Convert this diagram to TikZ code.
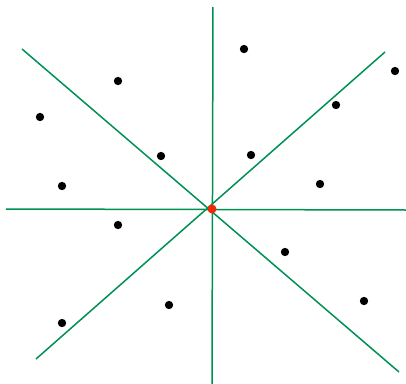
\documentclass[tikz,border=0pt]{standalone}
\definecolor{axisgreen}{RGB}{0,145,82}
\definecolor{origred}{RGB}{240,40,10}
\tikzset{
  ray/.style = {draw = axisgreen, line width = 0.045cm},
  pt/.style = {circle, fill = black, inner sep = 0pt, minimum size = 0.25cm},
  orig/.style = {circle, fill = origred, inner sep = 0pt, minimum size = 0.27cm}
}
\begin{document}
\begin{tikzpicture}[x=0.03cm, y=-0.03cm]
			\useasboundingbox (0, 0) rectangle (406, 384);

			\coordinate (n) at (213, 7);
\coordinate (s) at (212, 384);
\coordinate (w) at (6, 209);
\coordinate (e) at (406, 210);
\coordinate (nw) at (22, 49);
\coordinate (se) at (399, 372);
\coordinate (ne) at (385, 52);
\coordinate (sw) at (36, 359);

			\draw[ray] (n) -- (s);
\draw[ray] (w) -- (e);
\draw[ray] (nw) -- (se);
\draw[ray] (ne) -- (sw);

			\node[pt] (p1) at (244, 49) {};
\node[pt] (p2) at (118, 81) {};
\node[pt] (p3) at (395, 71) {};
\node[pt] (p4) at (40, 117) {};
\node[pt] (p5) at (336, 105) {};
\node[pt] (p6) at (161, 156) {};
\node[pt] (p7) at (251, 155) {};
\node[pt] (p8) at (62, 186) {};
\node[pt] (p9) at (320, 184) {};
\node[pt] (p10) at (118, 225) {};
\node[pt] (p11) at (285, 252) {};
\node[pt] (p12) at (169, 305) {};
\node[pt] (p13) at (364, 301) {};
\node[pt] (p14) at (62, 323) {};

			\node[orig] (o) at (212, 209) {};

		\end{tikzpicture}
\end{document}
